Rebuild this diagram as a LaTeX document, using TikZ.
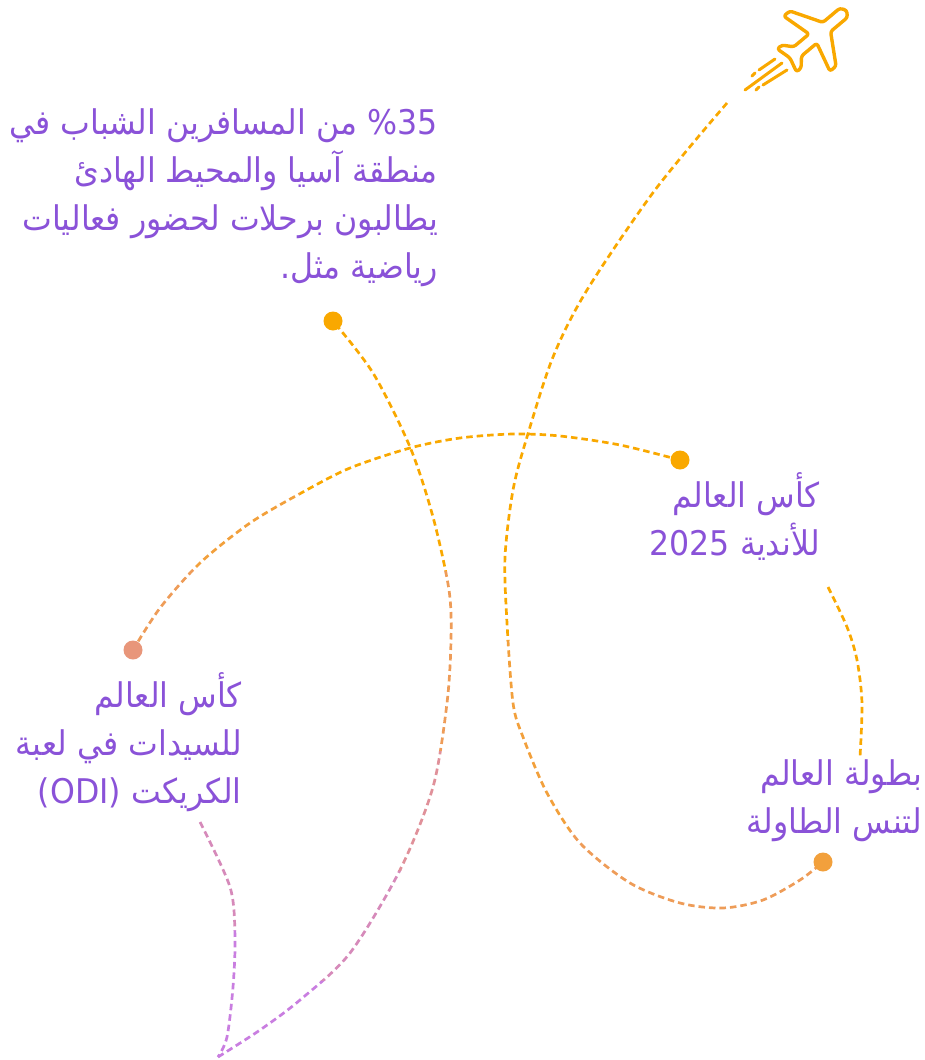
\documentclass[tikz,border=0pt]{standalone}
\usepackage{fontspec}
\newfontfamily\arabicfont[Script=Arabic, FakeStretch=0.93]{DejaVu Sans}
\TeXXeTstate=1
\definecolor{amber}{HTML}{F9A800}
\definecolor{tangerine}{HTML}{F2A03C}
\definecolor{apricot}{HTML}{EE9C58}
\definecolor{salmon}{HTML}{E8967A}
\definecolor{rosy}{HTML}{E0919A}
\definecolor{orchid}{HTML}{D68ABA}
\definecolor{lilac}{HTML}{C97EE0}
\definecolor{ink}{HTML}{8A52D8}
\tikzstyle{dot}=[circle, fill=amber, inner sep=0pt, minimum size=19pt]
\tikzstyle{trail}=[line width=2.7pt, dash pattern=on 6.5pt off 4pt]
\tikzstyle{note}=[font=\arabicfont\fontsize{34}{48}\selectfont, text=ink, align=right, inner sep=0pt, anchor=base east]
\newcommand{\band}[3]{\begin{scope}\clip #1; \draw[trail, #2] #3; \end{scope}}

\begin{document}
\begin{tikzpicture}[x=1pt, y=-1pt]
    \useasboundingbox (0,0) rectangle (925,1060);
    % ends of the trail
    \coordinate (tail) at (727,103);
    \coordinate (s1) at (828,587);
    \coordinate (s2) at (860,757);
    \coordinate (k1) at (200,822);
    \coordinate (tip) at (218,1057);
    \coordinate (d1) at (333,321);
    \coordinate (d2) at (680,460);
    \coordinate (d3) at (823,862);
    \coordinate (d4) at (133,650);
    \def\loopline{plot[smooth] coordinates {(tail) (655,190) (587,290) (553,357) (527,437) (513,490) (505,557) (507,623)
        (513,703) (523,737) (547,793) (580,843) (630,883) (680,903) (723,908) (763,900) (800,880) (d3)}}
    \def\arcline{plot[smooth] coordinates {(d2) (620,445) (560,436) (513,434) (460,438) (410,448) (350,468) (303,492)
        (250,523) (200,563) (160,608) (d4)}}
    \def\dropline{plot[smooth] coordinates {(k1) (230,887) (235,937) (233,987) (227,1037) (tip)}}
    \def\riseline{plot[smooth] coordinates {(tip) (260,1030) (300,1000) (350,953) (400,870) (433,787) (447,703)
        (451,640) (449,590) (433,517) (410,447) (373,373) (d1)}}
    % big loop from the plane
    \band{(0,0) rectangle (925,640)}{amber}{\loopline}
    \band{(0,640) rectangle (570,1060)}{tangerine}{\loopline}
    \band{(570,640) rectangle (925,1060)}{apricot}{\loopline}
    \draw[trail, amber] plot[smooth] coordinates {(s1) (847,627) (857,660) (862,703) (s2)};
    % arc to the left dot
    \band{(300,0) rectangle (925,1060)}{amber}{\arcline}
    \band{(195,0) rectangle (300,1060)}{tangerine}{\arcline}
    \band{(0,0) rectangle (195,1060)}{apricot}{\arcline}
    % down to the tip and back up
    \band{(0,0) rectangle (925,930)}{orchid}{\dropline}
    \band{(0,930) rectangle (925,1060)}{lilac}{\dropline}
    \band{(0,980) rectangle (925,1060)}{lilac}{\riseline}
    \band{(0,870) rectangle (925,980)}{orchid}{\riseline}
    \band{(0,750) rectangle (925,870)}{rosy}{\riseline}
    \band{(0,570) rectangle (925,750)}{apricot}{\riseline}
    \band{(0,0) rectangle (925,570)}{amber}{\riseline}
    % dots
    \node[dot] (dot1) at (d1) {};
    \node[dot] (dot2) at (d2) {};
    \node[dot, fill=tangerine] (dot3) at (d3) {};
    \node[dot, fill=salmon] (dot4) at (d4) {};
    % plane
    \begin{scope}[shift={(816,36)}, rotate=40, amber, line width=3.4pt, line join=round, rounded corners=2.5pt]
        \draw (40,0) -- (36,6) -- (14,6) -- (-4,36) -- (-12,36) -- (-4,6) -- (-24,6) -- (-32,15) -- (-38,15)
            -- (-34,0) -- (-38,-15) -- (-32,-15) -- (-24,-6) -- (-4,-6) -- (-12,-36) -- (-4,-36) -- (14,-6) -- (36,-6) -- cycle;
    \end{scope}
    \draw[amber, line width=3pt, line cap=round]
        (752,76) -- (755,73) (759,70) -- (775,59)
        (745,90) -- (782,63)
        (756,90) -- (759,87) (763,85) -- (787,70);
    % texts, placed by the baseline of their last line
    \node[note] (stat) at (438,278) {\beginR\beginL\hbox{\%}\hbox{35}\endL{} من المسافرين الشباب في\endR\\
        \beginR منطقة آسيا والمحيط الهادئ\endR\\
        \beginR يطالبون برحلات لحضور فعاليات\endR\\
        \beginR رياضية مثل.\endR};
    \node[note] (clubs) at (820,555) {\beginR كأس العالم\endR\\ \beginR للأندية \beginL 2025\endL\endR};
    \node[note] (tennis) at (922,833) {\beginR بطولة العالم\endR\\ \beginR لتنس الطاولة\endR};
    \node[note] (cricket) at (242,803) {\beginR كأس العالم\endR\\ \beginR للسيدات في لعبة\endR\\ \beginR الكريكت \beginL(ODI)\endL\endR};
\end{tikzpicture}
\end{document}
